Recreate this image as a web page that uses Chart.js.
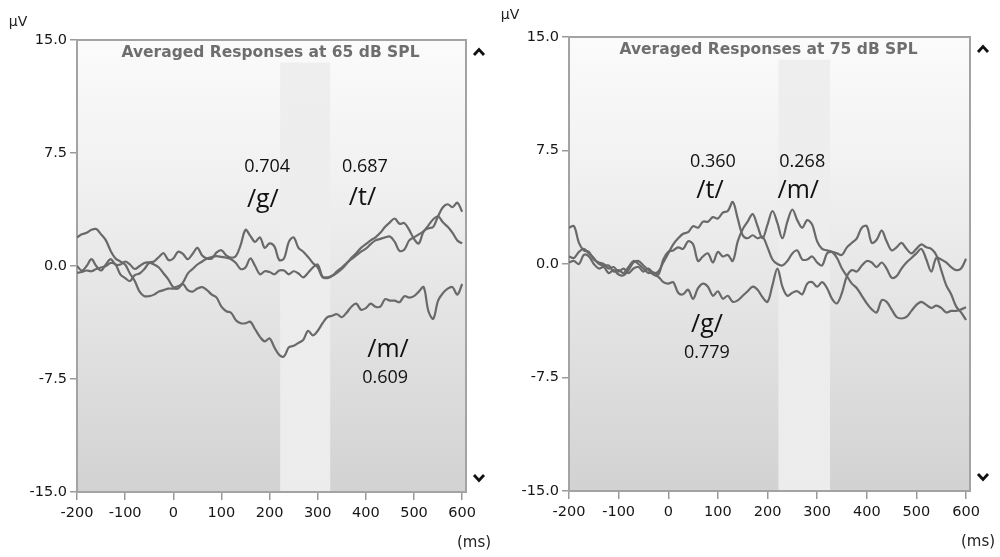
<!DOCTYPE html>
<html>
<head>
<meta charset="utf-8">
<title>Averaged Responses</title>
<script src="https://cdn.jsdelivr.net/npm/chart.js@4.4.1/dist/chart.umd.min.js"></script>
<style>
  html, body { margin: 0; padding: 0; background: #ffffff; }
  #wrap { position: relative; width: 1000px; height: 557px; overflow: hidden; }
  canvas { position: absolute; top: 0; }
  #left { left: 0; }
  #right { left: 500px; }
</style>
</head>
<body>
<div id="wrap">
  <canvas id="left" width="500" height="557"></canvas>
  <canvas id="right" width="500" height="557"></canvas>
</div>
<script>
// sample times (ms)
const timesMs = [-200, -190, -180, -170, -160, -150, -140, -130, -120, -110, -100, -90, -80, -70, -60, -50, -40, -30, -20, -10,
  0, 10, 20, 30, 40, 50, 60, 70, 80, 90, 100, 110, 120, 130, 140, 150, 160, 170, 180, 190,
  200, 210, 220, 230, 240, 250, 260, 270, 280, 290, 300, 310, 320, 330, 340, 350, 360, 370, 380, 390,
  400, 410, 420, 430, 440, 450, 460, 470, 480, 490, 500, 510, 520, 530, 540, 550, 560, 570, 580, 590, 600];

// 65 dB SPL (µV)
const g65 = [0.0, -0.3, 0.0, 0.45, 0.0, -0.3, 0.1, 0.45, 0.1, 0.1, 0.3, 0.1, -0.2, 0.0, 0.2, 0.25, 0.3, 0.6, 0.85, 0.4,
  0.5, 0.95, 0.8, 0.45, 0.8, 1.2, 0.7, 0.5, 0.5, 0.9, 1.05, 0.7, 0.55, 0.65, 1.4, 2.4, 2.0, 1.6, 1.9, 1.2,
  1.5, 1.3, 0.4, 0.5, 1.6, 1.9, 1.2, 0.95, 0.6, 0.2, -0.1, -0.75, -0.8, -0.65, -0.45, -0.2, 0.15, 0.55, 0.85, 1.2,
  1.45, 1.7, 1.9, 2.2, 2.6, 2.9, 3.15, 2.8, 2.85, 2.4, 1.8, 1.5, 2.3, 2.5, 2.6, 3.3, 3.9, 4.1, 3.9, 4.2, 3.6];
const t65 = [-0.45, -0.4, -0.3, -0.35, -0.2, -0.1, 0.0, 0.2, 0.1, -0.55, -0.8, -1.0, -0.6, -0.5, -0.2, 0.2, 0.1, -0.1, -0.5, -0.9,
  -1.4, -1.35, -1.1, -0.5, -0.2, 0.1, 0.3, 0.5, 0.6, 0.65, 0.6, 0.55, 0.45, 0.2, -0.2, -0.1, 0.5, 0.0, -0.55, -0.35,
  -0.4, -0.55, -0.3, -0.3, -0.55, -0.35, -0.5, -0.75, -0.45, -0.1, 0.1, -0.7, -0.75, -0.65, -0.35, -0.1, 0.2, 0.45, 0.7, 0.95,
  1.15, 1.45, 1.7, 1.8, 1.9, 1.95, 1.6, 1.0, 1.1, 1.7, 1.9, 2.1, 2.3, 2.7, 3.1, 3.3, 2.9, 2.6, 2.2, 1.7, 1.5];
const m65 = [1.9, 2.1, 2.2, 2.4, 2.45, 2.1, 1.7, 1.0, 0.5, 0.3, 0.1, -0.5, -1.0, -1.7, -2.0, -2.0, -1.9, -1.7, -1.6, -1.5,
  -1.5, -1.5, -1.2, -1.6, -1.7, -1.5, -1.4, -1.6, -1.9, -2.1, -2.7, -3.0, -3.1, -3.6, -3.8, -3.8, -3.7, -4.2, -4.7, -5.0,
  -4.8, -5.4, -5.9, -6.0, -5.4, -5.3, -5.1, -4.9, -4.3, -4.6, -4.3, -3.8, -3.4, -3.3, -3.2, -3.4, -3.1, -2.7, -2.5, -2.9,
  -2.8, -2.5, -2.7, -2.7, -2.2, -2.3, -2.3, -2.4, -2.0, -2.1, -2.0, -1.7, -1.4, -3.0, -3.5, -2.3, -1.8, -1.5, -1.4, -1.9, -1.2];

// 75 dB SPL (µV)
const t75 = [2.4, 2.5, 1.4, 0.9, 0.8, 0.3, 0.1, 0.0, -0.3, -0.2, -0.5, -0.3, -0.6, -0.3, -0.2, -0.5, -0.3, -0.6, -0.5, 0.1,
  0.7, 1.3, 1.7, 2.0, 2.1, 2.5, 2.4, 2.8, 2.8, 3.1, 3.0, 3.4, 3.5, 4.1, 3.0, 1.9, 1.7, 1.9, 1.7, 1.8,
  1.1, 0.3, 0.0, -0.1, 0.2, 0.7, 0.9, 0.3, 0.3, 0.5, 0.1, -0.1, 0.7, 0.8, 0.7, 0.6, 1.1, 1.4, 1.7, 2.4,
  2.5, 1.4, 1.6, 2.2, 1.5, 0.9, 1.1, 1.4, 1.0, 0.7, 1.0, 1.3, 1.1, 1.0, 0.6, -0.4, -1.4, -2.0, -2.8, -3.2, -3.7];
const m75 = [0.5, 0.4, 0.8, 1.0, 0.7, 0.4, 0.0, -0.1, -0.1, -0.5, -0.4, -0.6, -0.2, 0.2, 0.0, -0.3, -0.6, -0.55, -0.7, 0.3,
  0.8, 0.9, 1.1, 1.0, 1.5, 1.3, 0.2, 0.5, 0.7, 0.1, 0.8, 0.5, 0.6, 0.2, 1.5, 2.3, 2.8, 3.3, 2.5, 1.7,
  2.6, 3.5, 2.7, 1.7, 2.8, 3.6, 2.9, 2.4, 2.9, 2.6, 1.5, 1.0, 0.9, 0.8, 0.4, -0.3, -0.8, -1.3, -1.6, -2.1,
  -2.6, -3.0, -3.2, -2.4, -2.5, -3.0, -3.5, -3.6, -3.5, -3.1, -2.7, -2.5, -2.7, -2.9, -2.75, -2.9, -3.2, -3.1, -3.1, -3.0, -2.85];
const g75 = [0.1, 0.2, 0.0, 0.6, 0.5, 0.0, -0.3, -0.2, -0.6, -0.4, -0.7, -0.75, -0.4, 0.1, 0.2, -0.1, -0.4, -0.7, -0.85, -1.2,
  -1.3, -1.2, -1.9, -2.0, -1.7, -2.3, -1.6, -1.3, -1.5, -2.1, -1.8, -2.3, -2.1, -2.5, -2.4, -2.1, -1.8, -1.5, -1.7, -2.2,
  -2.5, -1.4, -0.3, -1.5, -2.1, -1.9, -1.8, -2.0, -1.3, -1.2, -1.5, -1.2, -1.6, -2.3, -2.6, -1.9, -0.8, -0.4, -0.5, -0.1,
  0.2, 0.1, -0.2, 0.1, -0.3, -0.9, -0.8, -0.3, 0.1, 0.4, 0.7, 1.0, 0.3, -0.5, 0.4, 0.3, 0.1, -0.2, -0.4, -0.3, 0.35];

// axes
const xTicks = [-200, -100, 0, 100, 200, 300, 400, 500, 600];
const yTicks = [-15, -7.5, 0, 7.5, 15];
// highlighted analysis window (ms)
const windowMs = [222, 326];

// text labels: [text, ms, µV]
const numbers65 = [["0.704", 195, 6.6], ["0.687", 398, 6.6], ["0.609", 440, -7.4]];
const phonemes65 = [["/g/", 186, 4.4], ["/t/", 393, 4.5], ["/m/", 446, -5.6]];
const numbers75 = [["0.360", 90, 6.75], ["0.268", 270, 6.75], ["0.779", 78, -5.9]];
const phonemes75 = [["/t/", 84, 4.8], ["/m/", 262, 4.8], ["/g/", 78, -4.0]];

const lineColor = "#696969";

function toPoints(values) {
  return values.map((v, i) => ({ x: timesMs[i], y: v }));
}

function chevron(ctx, cx, cy, up) {
  ctx.save();
  ctx.strokeStyle = "#111";
  ctx.lineWidth = 2.8;
  ctx.lineJoin = "miter";
  ctx.beginPath();
  const d = up ? -1 : 1;
  ctx.moveTo(cx - 5, cy - 3 * d);
  ctx.lineTo(cx, cy + 2.5 * d);
  ctx.lineTo(cx + 5, cy - 3 * d);
  ctx.stroke();
  ctx.restore();
}

function makePanel(id, title, series, numbers, phonemes, box) {
  const decor = {
    id: "decor_" + id,
    beforeDraw(chart) {
      const { ctx, chartArea: a, scales } = chart;
      ctx.save();
      // plot background gradient
      const grad = ctx.createLinearGradient(0, a.top, 0, a.bottom);
      grad.addColorStop(0, "#fbfbfb");
      grad.addColorStop(0.3, "#f1f1f1");
      grad.addColorStop(1, "#d2d2d2");
      ctx.fillStyle = grad;
      ctx.fillRect(a.left, a.top, a.right - a.left, a.bottom - a.top);
      // analysis window band
      const x0 = scales.x.getPixelForValue(windowMs[0]);
      const x1 = scales.x.getPixelForValue(windowMs[1]);
      const bt = scales.y.getPixelForValue(13.5);
      const bg = ctx.createLinearGradient(0, bt, 0, a.bottom);
      bg.addColorStop(0, "#eeeeee");
      bg.addColorStop(1, "#ececec");
      ctx.fillStyle = bg;
      ctx.fillRect(x0, bt, x1 - x0, a.bottom - bt);
      // frame
      ctx.strokeStyle = "#a3a3a3";
      ctx.lineWidth = 2;
      ctx.strokeRect(a.left, a.top, a.right - a.left, a.bottom - a.top);
      ctx.restore();
    },
    afterDraw(chart) {
      const { ctx, chartArea: a, scales } = chart;
      ctx.save();
      ctx.textAlign = "center";
      ctx.textBaseline = "middle";
      // title
      ctx.fillStyle = "#6e6e6e";
      ctx.font = "bold 15.5px 'DejaVu Sans'";
      ctx.fillText(title, (a.left + a.right) / 2 - 1, a.top + 13);
      // correlation values and phoneme labels
      ctx.fillStyle = "#111";
      ctx.font = "18px 'Open Sans'";
      numbers.forEach(([t, x, y]) => ctx.fillText(t, scales.x.getPixelForValue(x), scales.y.getPixelForValue(y)));
      ctx.font = "25px 'Open Sans'";
      phonemes.forEach(([t, x, y]) => ctx.fillText(t, scales.x.getPixelForValue(x), scales.y.getPixelForValue(y)));
      // units
      ctx.fillStyle = "#222";
      ctx.font = "14px 'DejaVu Sans'";
      ctx.fillText("\u00b5V", a.left - 59, a.top - box.uvUp);
      ctx.font = "15px 'DejaVu Sans'";
      ctx.fillText("(ms)", a.right + 8, a.bottom + 51);
      ctx.restore();
      chevron(ctx, a.right + 13, a.top + 12, true);
      chevron(ctx, a.right + 13, a.bottom - 14, false);
    }
  };

  return new Chart(document.getElementById(id), {
    type: "line",
    data: {
      datasets: series.map(s => ({
        data: toPoints(s),
        borderColor: lineColor,
        borderWidth: 2.2,
        pointRadius: 0,
        tension: 0.35,
        fill: false
      }))
    },
    options: {
      responsive: false,
      animation: false,
      devicePixelRatio: 1,
      layout: { padding: { top: box.top, right: box.right, left: 0, bottom: 0 } },
      plugins: { legend: { display: false }, tooltip: { enabled: false } },
      scales: {
        x: {
          type: "linear",
          min: -200,
          max: 608,
          afterBuildTicks: sc => { sc.ticks = xTicks.map(v => ({ value: v })); },
          afterFit: sc => { sc.height = box.xh; },
          grid: { drawOnChartArea: false, drawTicks: true, tickLength: 8, color: "#9a9a9a", lineWidth: 1.5 },
          border: { display: true, color: "#a3a3a3", width: 2 },
          ticks: {
            color: "#161616",
            font: { family: "DejaVu Sans", size: 14.5 },
            padding: 5,
            maxRotation: 0,
            autoSkip: false,
            callback: v => String(v)
          }
        },
        y: {
          min: -15,
          max: 15,
          afterBuildTicks: sc => { sc.ticks = yTicks.map(v => ({ value: v })); },
          afterFit: sc => { sc.width = box.yw; },
          grid: { drawOnChartArea: false, drawTicks: true, tickLength: 7, color: "#9a9a9a", lineWidth: 1.5 },
          border: { display: true, color: "#a3a3a3", width: 2 },
          ticks: {
            color: "#161616",
            font: { family: "DejaVu Sans", size: 14.5 },
            padding: 3,
            autoSkip: false,
            callback: v => v.toFixed(1)
          }
        }
      }
    },
    plugins: [decor]
  });
}

makePanel("left", "Averaged Responses at 65 dB SPL", [g65, t65, m65], numbers65, phonemes65,
  { top: 40, right: 34, yw: 77, xh: 65, uvUp: 18 });
makePanel("right", "Averaged Responses at 75 dB SPL", [t75, m75, g75], numbers75, phonemes75,
  { top: 37, right: 30, yw: 69, xh: 66, uvUp: 22 });
</script>
</body>
</html>
